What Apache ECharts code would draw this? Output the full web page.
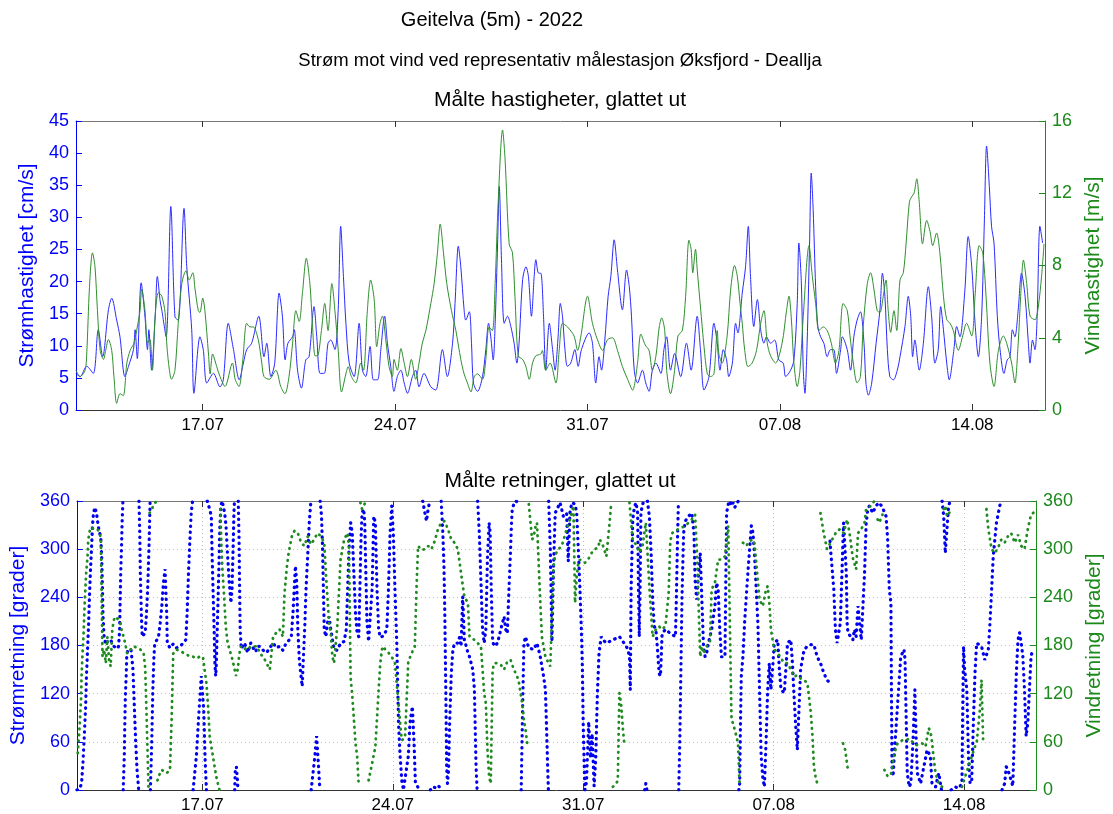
<!DOCTYPE html>
<html>
<head>
<meta charset="utf-8">
<script src="https://cdn.jsdelivr.net/npm/echarts@6/dist/echarts.min.js"></script>
<style>
  html, body { margin: 0; padding: 0; background: #fff; }
  #chart { width: 1113px; height: 814px; }
</style>
</head>
<body>
<div id="chart"></div>
<script>
// Time axis in days of July 2022 (32 = 1 August)
const dayMin = 12.39;
const dayMax = 47.645;
const tickDays = [17, 24, 31, 38, 45];
const tickLabels = ['17.07', '24.07', '31.07', '07.08', '14.08'];

// Current speed, smoothed [day, cm/s]
const currentSpeed = [
[12.39,5.7],[12.54,5.2],[12.78,6.8],[13.02,5.7],[13.20,12.5],[13.36,8.3],[13.57,15.6],[13.69,17.4],[13.87,14.0],[13.99,11.4],[14.17,5.2],[14.30,6.8],[14.48,9.4],[14.54,12.5],[14.62,8.0],[14.76,19.8],[14.90,14.5],[14.99,9.4],[15.04,12.5],[15.14,6.2],[15.27,14.5],[15.35,20.8],[15.45,17.0],[15.51,15.6],[15.67,11.4],[15.84,31.7],[15.99,14.5],[16.11,14.0],[16.32,31.4],[16.42,22.3],[16.60,12.5],[16.68,2.6],[16.90,11.4],[17.02,9.4],[17.15,4.2],[17.39,5.7],[17.63,3.6],[17.75,4.7],[17.93,13.5],[18.12,9.4],[18.33,4.7],[18.48,7.3],[18.60,9.4],[18.78,10.4],[19.04,14.6],[19.23,8.3],[19.33,10.4],[19.48,5.2],[19.62,7.3],[19.78,18.2],[19.90,14.6],[20.00,7.8],[20.10,10.4],[20.27,11.4],[20.33,12.5],[20.45,6.2],[20.59,3.4],[20.75,7.8],[20.87,8.3],[21.05,16.1],[21.15,11.4],[21.27,5.7],[21.42,5.7],[21.56,10.4],[21.66,10.9],[21.81,9.4],[21.93,15.6],[22.02,28.6],[22.12,20.8],[22.21,13.5],[22.33,7.3],[22.51,5.2],[22.69,13.5],[22.81,6.2],[22.93,5.2],[23.09,9.9],[23.21,4.7],[23.36,4.7],[23.48,9.4],[23.62,14.6],[23.72,10.4],[23.84,6.8],[23.96,2.9],[24.08,5.2],[24.21,6.2],[24.33,4.2],[24.45,2.6],[24.63,5.2],[24.75,6.2],[24.87,3.6],[25.05,5.7],[25.30,3.6],[25.48,3.1],[25.72,9.4],[25.90,5.2],[26.09,10.4],[26.18,16.6],[26.30,25.5],[26.39,22.3],[26.51,15.6],[26.57,14.0],[26.70,15.3],[26.78,10.4],[26.85,4.2],[27.00,2.9],[27.18,5.2],[27.30,9.4],[27.40,13.5],[27.48,11.4],[27.57,7.8],[27.64,13.5],[27.73,26.0],[27.79,34.8],[27.87,23.4],[27.97,13.5],[28.09,14.6],[28.21,13.0],[28.33,10.4],[28.43,7.3],[28.51,10.4],[28.64,20.3],[28.76,22.3],[28.85,20.8],[28.96,14.6],[29.06,20.8],[29.12,23.4],[29.22,21.3],[29.30,21.3],[29.40,14.6],[29.48,6.2],[29.61,13.5],[29.73,9.4],[29.82,6.2],[29.93,11.4],[30.01,16.6],[30.09,14.6],[30.18,9.4],[30.27,6.8],[30.39,7.3],[30.54,9.4],[30.66,6.8],[30.78,9.4],[31.06,12.0],[31.18,10.4],[31.30,4.2],[31.42,8.3],[31.51,6.2],[31.63,10.9],[31.75,17.7],[31.85,20.8],[31.97,26.5],[32.09,21.8],[32.27,15.6],[32.42,21.8],[32.52,19.2],[32.60,14.6],[32.70,6.2],[32.82,4.2],[33.00,6.2],[33.12,4.2],[33.24,2.9],[33.36,6.2],[33.49,7.3],[33.67,5.7],[33.78,9.4],[33.88,11.4],[34.02,6.2],[34.17,8.8],[34.39,5.2],[34.60,10.4],[34.77,6.2],[34.99,14.6],[35.11,9.4],[35.24,3.1],[35.42,5.2],[35.60,13.5],[35.72,10.4],[35.82,6.2],[35.94,9.4],[36.06,7.8],[36.14,5.2],[36.27,7.3],[36.39,13.5],[36.47,12.0],[36.63,18.2],[36.75,22.3],[36.85,28.6],[36.93,20.8],[37.05,13.0],[37.18,17.2],[37.30,12.5],[37.42,10.4],[37.51,11.4],[37.66,10.4],[37.81,10.9],[37.96,7.8],[38.12,7.3],[38.21,5.2],[38.39,6.2],[38.51,7.8],[38.63,16.6],[38.69,26.0],[38.78,19.8],[38.85,6.2],[38.91,2.6],[38.99,10.4],[39.08,26.0],[39.14,36.9],[39.21,31.2],[39.30,19.2],[39.38,13.0],[39.48,11.4],[39.60,10.4],[39.72,8.3],[39.84,9.4],[39.96,9.4],[40.06,5.7],[40.21,9.4],[40.27,11.4],[40.45,9.4],[40.57,6.2],[40.69,11.4],[40.81,14.0],[40.93,15.3],[41.06,10.4],[41.13,4.2],[41.22,2.3],[41.34,4.2],[41.50,10.4],[41.64,15.6],[41.73,21.3],[41.82,17.7],[41.91,9.4],[42.00,5.2],[42.13,4.7],[42.27,6.2],[42.37,8.3],[42.55,13.0],[42.67,17.7],[42.76,14.6],[42.83,8.3],[42.91,10.9],[43.07,6.2],[43.22,10.4],[43.40,19.2],[43.52,14.6],[43.64,7.3],[43.76,9.4],[43.85,16.1],[43.95,12.5],[44.07,7.3],[44.16,4.7],[44.33,9.4],[44.43,13.0],[44.55,11.4],[44.73,18.7],[44.85,27.0],[44.98,22.3],[45.10,13.5],[45.22,8.3],[45.34,14.6],[45.44,29.6],[45.52,41.1],[45.62,34.8],[45.70,28.6],[45.79,26.0],[45.91,14.6],[46.01,9.4],[46.15,5.7],[46.27,7.8],[46.37,8.3],[46.46,12.5],[46.55,11.4],[46.67,15.6],[46.79,21.3],[46.92,17.7],[47.04,10.4],[47.10,7.3],[47.19,10.9],[47.28,9.4],[47.36,14.6],[47.46,28.6],[47.56,26.0]
];

// Wind speed at Øksfjord - Deallja, smoothed [day, m/s]
const windSpeed = [
[12.39,2.2],[12.54,1.85],[12.72,2.2],[12.78,3.1],[12.88,6.8],[12.99,8.7],[13.08,7.95],[13.17,5.5],[13.27,3.3],[13.39,2.8],[13.47,3.3],[13.57,3.9],[13.69,3.3],[13.77,1.85],[13.87,0.37],[13.99,0.9],[14.11,0.8],[14.24,2.6],[14.36,3.3],[14.50,3.7],[14.62,4.6],[14.72,5.5],[14.78,6.7],[14.90,5.5],[14.99,3.7],[15.08,3.9],[15.17,2.2],[15.27,5.2],[15.39,6.5],[15.51,6.3],[15.63,5.4],[15.71,3.3],[15.87,1.7],[15.99,2.2],[16.11,4.8],[16.24,7.0],[16.39,7.7],[16.51,7.2],[16.64,7.6],[16.72,6.7],[16.84,5.5],[16.90,5.4],[17.00,6.2],[17.08,5.5],[17.21,3.1],[17.27,2.0],[17.36,3.1],[17.51,2.4],[17.63,1.85],[17.81,1.3],[18.08,2.6],[18.18,1.7],[18.32,1.3],[18.46,2.8],[18.60,4.8],[18.72,4.6],[18.84,4.6],[19.02,3.9],[19.15,2.6],[19.23,1.85],[19.42,1.7],[19.66,2.2],[19.84,1.3],[19.99,0.9],[20.14,1.85],[20.27,3.7],[20.39,5.5],[20.51,4.9],[20.63,6.5],[20.77,8.4],[20.90,7.0],[20.99,4.8],[21.09,3.0],[21.17,3.0],[21.32,4.4],[21.44,5.9],[21.56,4.4],[21.70,7.0],[21.81,5.5],[21.93,3.3],[22.05,1.0],[22.21,2.0],[22.29,2.4],[22.41,1.85],[22.57,1.5],[22.75,2.6],[22.85,2.2],[22.99,5.5],[23.11,7.2],[23.24,6.1],[23.33,3.5],[23.45,4.8],[23.54,5.2],[23.66,3.9],[23.78,2.4],[23.90,1.85],[23.96,2.8],[24.08,2.2],[24.21,3.4],[24.33,2.6],[24.45,1.85],[24.59,2.8],[24.75,1.7],[24.87,2.6],[24.99,3.7],[25.12,4.4],[25.30,5.9],[25.42,7.0],[25.54,8.7],[25.64,10.3],[25.76,8.7],[25.88,7.0],[26.05,5.5],[26.21,4.4],[26.39,2.8],[26.51,2.0],[26.63,1.5],[26.76,1.0],[26.88,1.85],[27.00,2.0],[27.18,1.7],[27.30,2.8],[27.42,4.6],[27.54,4.4],[27.64,7.0],[27.75,11.5],[27.91,15.5],[28.00,13.9],[28.15,9.2],[28.27,8.7],[28.36,6.3],[28.48,3.0],[28.64,2.8],[28.76,2.4],[28.88,1.7],[29.00,2.6],[29.12,3.0],[29.30,3.1],[29.36,3.3],[29.48,2.2],[29.64,2.6],[29.85,1.5],[29.97,3.3],[30.09,4.8],[30.27,4.6],[30.51,4.1],[30.64,3.3],[30.76,4.1],[31.00,6.3],[31.18,4.8],[31.36,3.9],[31.55,3.3],[31.73,3.9],[31.91,4.0],[32.09,3.3],[32.27,2.4],[32.46,1.7],[32.64,1.1],[32.82,2.6],[32.94,4.2],[33.10,3.6],[33.24,3.3],[33.36,2.2],[33.49,3.0],[33.61,4.6],[33.70,5.1],[33.81,4.4],[33.88,2.2],[34.02,0.9],[34.17,2.2],[34.29,4.1],[34.45,4.4],[34.57,6.3],[34.69,9.4],[34.77,8.9],[34.83,7.6],[34.93,8.9],[34.99,7.8],[35.11,5.7],[35.24,3.5],[35.36,2.0],[35.48,1.85],[35.60,2.0],[35.72,4.4],[35.78,3.1],[35.90,2.6],[36.08,4.1],[36.21,6.7],[36.35,8.0],[36.45,7.4],[36.55,5.9],[36.63,4.8],[36.72,3.3],[36.84,2.4],[36.99,2.6],[37.15,3.3],[37.30,4.8],[37.42,5.5],[37.54,3.7],[37.66,3.0],[37.84,2.6],[38.08,3.7],[38.24,5.5],[38.33,6.3],[38.41,5.2],[38.51,2.6],[38.63,1.3],[38.73,2.2],[38.85,5.2],[39.06,9.1],[39.18,7.4],[39.30,5.9],[39.42,4.4],[39.58,4.6],[39.72,4.4],[39.87,3.7],[40.02,2.6],[40.15,3.3],[40.30,5.9],[40.45,5.5],[40.55,4.1],[40.67,2.6],[40.81,1.5],[40.93,1.85],[41.03,4.6],[41.18,7.0],[41.30,7.6],[41.42,6.7],[41.54,5.5],[41.64,5.4],[41.76,6.3],[41.86,7.2],[41.94,5.5],[42.03,4.3],[42.15,5.5],[42.25,4.4],[42.37,7.2],[42.49,7.6],[42.59,9.2],[42.71,11.5],[42.79,11.8],[42.88,12.0],[42.98,12.8],[43.07,11.5],[43.19,9.2],[43.34,10.5],[43.46,9.9],[43.56,9.1],[43.70,9.8],[43.82,8.7],[43.95,6.3],[44.07,5.0],[44.19,4.8],[44.31,4.4],[44.49,3.3],[44.65,4.1],[44.79,4.8],[44.98,4.1],[45.10,6.3],[45.25,9.1],[45.38,8.7],[45.50,6.3],[45.64,2.6],[45.79,1.3],[45.95,3.3],[46.13,4.1],[46.25,3.7],[46.43,2.6],[46.55,1.5],[46.67,3.7],[46.76,6.3],[46.86,8.3],[46.98,7.0],[47.10,5.2],[47.28,5.0],[47.40,5.7],[47.52,7.4],[47.61,9.2]
];

// Current direction, smoothed [day, degrees]; null separates the 0/360 wraps
const currentDirection = [
[12.39,0],[12.48,1],[12.56,8],[12.61,33],[12.66,67],[12.71,104],[12.74,142],[12.78,175],[12.82,208],[12.85,241],[12.89,275],[12.93,304],[12.96,329],[13.00,345],[13.05,352],[13.11,345],[13.17,329],[13.23,320],[13.27,312],[13.30,291],[13.33,250],[13.35,216],[13.39,191],[13.45,181],[13.51,185],[13.57,187],[13.63,187],[13.69,182],[13.75,179],[13.81,177],[13.87,176],[13.92,179],[13.96,200],[13.98,237],[14.00,271],[14.03,304],[14.05,333],[14.08,360],null,
[14.09,0],[14.13,42],[14.15,83],[14.17,117],[14.20,142],[14.22,166],[14.26,175],[14.32,176],[14.38,174],[14.42,176],[14.45,150],[14.50,104],[14.55,60],[14.60,25],[14.66,0],null,
[14.67,360],[14.70,320],[14.72,270],[14.76,216],[14.79,191],[14.84,189],[14.90,196],[14.94,216],[14.99,250],[15.04,304],[15.08,360],null,
[15.09,0],[15.14,60],[15.18,125],[15.22,166],[15.25,183],[15.33,187],[15.39,191],[15.45,208],[15.51,229],[15.57,258],[15.63,275],[15.67,275],[15.69,220],[15.71,183],[15.81,177],[15.93,182],[16.05,177],[16.18,179],[16.30,183],[16.39,187],[16.44,220],[16.49,270],[16.54,310],[16.59,345],[16.64,360],null,
[16.66,0],[16.78,42],[16.88,100],[16.96,142],[17.05,100],[17.10,40],[17.15,0],null,
[17.18,360],[17.21,356],[17.27,350],[17.33,341],[17.36,291],[17.40,241],[17.44,191],[17.46,158],[17.49,142],[17.51,154],[17.53,179],[17.57,229],[17.61,279],[17.64,325],[17.68,354],[17.73,360],[17.78,358],[17.82,345],[17.87,329],[17.93,291],[17.99,258],[18.05,233],[18.09,250],[18.13,300],[18.16,345],[18.18,360],null,
[18.19,0],[18.21,25],[18.25,29],[18.29,12],[18.31,0],null,
[18.32,360],[18.35,312],[18.37,250],[18.39,200],[18.43,176],[18.48,174],[18.54,183],[18.60,179],[18.66,171],[18.72,177],[18.78,183],[18.84,181],[18.90,175],[18.96,172],[19.02,179],[19.11,179],[19.24,174],[19.36,171],[19.48,177],[19.60,183],[19.72,177],[19.84,179],[19.96,174],[20.08,183],[20.20,187],[20.27,191],[20.33,220],[20.42,279],[20.47,258],[20.51,200],[20.57,160],[20.67,129],[20.72,170],[20.77,208],[20.81,250],[20.87,291],[20.93,333],[20.99,360],null,
[21.00,0],[21.13,40],[21.20,67],[21.27,30],[21.32,0],null,
[21.33,360],[21.38,341],[21.42,300],[21.45,250],[21.48,200],[21.54,191],[21.60,208],[21.66,216],[21.72,200],[21.84,175],[21.96,174],[22.08,183],[22.21,185],[22.29,200],[22.34,250],[22.39,300],[22.45,333],[22.51,320],[22.57,270],[22.63,220],[22.69,195],[22.75,191],[22.79,250],[22.83,310],[22.87,345],[22.93,350],[22.97,333],[23.01,270],[23.05,210],[23.11,185],[23.17,187],[23.24,250],[23.30,341],[23.36,333],[23.42,250],[23.48,200],[23.54,190],[23.66,192],[23.78,200],[23.84,250],[23.90,320],[23.96,354],[24.02,320],[24.08,250],[24.13,200],[24.15,179],[24.21,83],[24.27,42],[24.33,12],[24.39,0],[24.45,0],[24.57,42],[24.63,83],[24.72,104],[24.78,60],[24.83,10],[24.93,3],[25.05,2],null,
[25.10,360],[25.18,345],[25.24,335],[25.30,350],[25.36,360],null,
[25.38,0],[25.45,4],[25.55,3],[25.66,6],[25.75,2],null,
[25.78,360],[25.84,320],[25.88,280],[25.91,225],[25.95,120],[25.98,30],[26.01,8],[26.05,25],[26.09,83],[26.15,145],[26.21,175],[26.27,183],[26.33,185],[26.39,183],[26.45,190],[26.51,179],[26.57,241],[26.63,187],[26.70,179],[26.76,171],[26.82,166],[26.88,158],[26.94,150],[27.00,125],[27.06,30],[27.10,0],null,
[27.12,360],[27.18,320],[27.24,260],[27.30,200],[27.36,183],[27.42,200],[27.48,290],[27.54,333],[27.58,320],[27.62,250],[27.67,185],[27.73,179],[27.85,183],[27.97,200],[28.09,216],[28.15,200],[28.21,195],[28.27,250],[28.33,300],[28.36,330],[28.39,350],[28.45,356],[28.51,360],[28.57,360],[28.64,358],[28.70,360],null,
[28.72,0],[28.76,80],[28.80,150],[28.82,183],[28.88,191],[28.94,183],[29.00,177],[29.06,179],[29.18,175],[29.30,183],[29.42,166],[29.54,142],[29.61,125],[29.65,80],[29.70,20],[29.72,0],null,
[29.73,360],[29.79,300],[29.85,185],[29.91,280],[29.97,345],[30.03,345],[30.15,358],[30.27,341],[30.39,345],[30.45,285],[30.51,345],[30.58,358],[30.64,360],[30.70,356],[30.76,345],[30.82,300],[30.88,250],[30.94,191],[30.97,150],[31.00,80],[31.06,0],[31.12,10],[31.20,85],[31.27,40],[31.33,70],[31.40,5],[31.46,40],[31.52,120],[31.58,170],[31.66,191],[31.73,187],[31.85,183],[31.97,185],[32.09,187],[32.21,189],[32.33,191],[32.46,185],[32.58,179],[32.64,175],[32.70,166],[32.73,125],[32.76,250],[32.82,337],[32.88,352],[32.94,358],[33.00,345],[33.03,250],[33.06,191],[33.09,250],[33.12,345],[33.18,356],[33.24,360],null,
[33.26,0],[33.30,8],[33.34,0],null,
[33.36,360],[33.43,341],[33.49,300],[33.55,241],[33.61,204],[33.67,200],[33.73,175],[33.79,145],[33.84,142],[33.90,195],[34.02,200],[34.20,195],[34.39,191],[34.43,250],[34.47,320],[34.50,360],null,
[34.51,0],[34.55,60],[34.59,150],[34.63,240],[34.69,320],[34.75,335],[34.87,341],[34.99,345],[35.07,320],[35.11,262],[35.17,237],[35.24,270],[35.30,295],[35.36,295],[35.40,200],[35.42,179],[35.48,166],[35.54,171],[35.60,183],[35.72,200],[35.84,229],[35.90,258],[35.96,250],[36.02,200],[36.08,166],[36.21,166],[36.24,260],[36.27,345],[36.33,356],[36.39,360],[36.45,354],[36.51,358],[36.57,352],[36.63,356],[36.70,360],null,
[36.72,0],[36.75,8],[36.78,83],[36.81,142],[36.87,166],[36.93,208],[37.05,270],[37.18,329],[37.24,320],[37.30,291],[37.36,250],[37.42,208],[37.48,125],[37.54,42],[37.60,15],[37.66,4],[37.72,60],[37.78,125],[37.84,158],[37.90,125],[37.96,150],[38.02,183],[38.15,187],[38.21,150],[38.27,125],[38.39,121],[38.51,183],[38.63,187],[38.69,158],[38.75,117],[38.81,80],[38.87,50],[38.93,100],[38.99,150],[39.12,175],[39.24,179],[39.36,181],[39.48,181],[39.60,166],[39.72,158],[39.84,146],[39.96,137],[40.02,135],null,
[40.07,310],[40.09,300],[40.21,250],[40.27,200],[40.33,183],[40.45,208],[40.51,271],[40.57,333],[40.63,335],[40.67,271],[40.70,208],[40.73,196],[40.79,196],[40.91,187],[40.97,200],[41.03,191],[41.10,229],[41.16,208],[41.22,187],[41.28,229],[41.34,270],[41.40,333],[41.46,350],[41.52,354],[41.64,345],[41.76,354],[41.88,358],[42.00,352],[42.13,341],[42.19,312],[42.25,250],[42.31,233],[42.33,120],[42.35,29],[42.39,17],[42.43,42],[42.55,104],[42.67,166],[42.79,175],[42.83,162],[42.85,125],[42.91,21],[42.98,4],[43.04,8],[43.12,60],[43.19,125],[43.24,60],[43.28,21],[43.40,8],[43.52,29],[43.64,50],[43.76,42],[43.82,8],[43.95,4],[44.07,21],[44.13,8],[44.17,0],null,
[44.19,360],[44.25,341],[44.31,295],[44.37,325],[44.43,354],[44.49,360],null,
[44.52,0],[44.67,4],[44.79,2],[44.92,8],[44.95,100],[44.98,179],[45.02,150],[45.10,125],[45.16,42],[45.22,8],[45.28,12],[45.34,83],[45.40,146],[45.46,183],[45.52,185],[45.64,179],[45.76,162],[45.89,175],[45.95,208],[46.07,291],[46.19,333],[46.31,354],[46.37,360],null,
[46.39,0],[46.49,8],[46.55,29],[46.61,25],[46.73,12],[46.79,5],[46.86,83],[46.92,146],[46.98,187],[47.04,196],[47.10,183],[47.16,166],[47.22,125],[47.28,67],[47.34,83],[47.40,125],[47.46,166],[47.52,175]
];

// Wind direction, smoothed [day, degrees]; null separates the 0/360 wraps
const windDirection = [
[12.42,46],[12.48,75],[12.54,112],[12.56,141],[12.59,166],[12.63,191],[12.68,237],[12.73,271],[12.78,291],[12.80,308],[12.84,320],[12.90,327],[13.02,325],[13.14,325],[13.23,320],[13.27,312],[13.33,166],[13.39,175],[13.45,158],[13.51,191],[13.57,162],[13.63,154],[13.69,200],[13.75,212],[13.81,216],[13.87,218],[13.92,212],[13.99,208],[14.05,196],[14.11,191],[14.24,170],[14.36,175],[14.48,179],[14.60,177],[14.72,175],[14.84,171],[14.90,152],[14.96,79],[15.02,4],null,
[15.06,345],[15.14,350],[15.20,354],[15.27,358],[15.33,360],null,
[15.35,12],[15.39,17],[15.45,21],[15.51,25],[15.57,25],[15.69,21],[15.81,25],[15.87,87],[15.93,170],[16.05,175],[16.18,173],[16.30,171],[16.42,169],[16.54,166],[16.66,166],[16.78,164],[16.90,166],[17.02,166],[17.15,133],[17.21,104],[17.27,67],[17.33,54],[17.39,42],[17.45,29],[17.51,17],[17.57,8],[17.63,0],null,
[17.66,350],[17.70,304],[17.73,279],[17.80,241],[17.86,204],[17.93,183],[17.99,181],[18.11,162],[18.24,142],[18.30,150],[18.36,170],[18.42,179],[18.54,175],[18.66,179],[18.78,177],[18.90,179],[19.02,179],[19.11,170],[19.24,166],[19.36,158],[19.48,150],[19.60,191],[19.72,196],[19.84,200],[19.96,191],[20.02,245],[20.11,279],[20.17,295],[20.29,316],[20.39,323],[20.51,320],[20.63,308],[20.75,304],[20.87,316],[20.99,306],[21.11,312],[21.23,320],[21.36,316],[21.48,308],[21.54,270],[21.66,208],[21.72,196],[21.78,166],[21.84,158],[21.96,204],[22.02,204],[22.08,287],[22.21,312],[22.33,320],[22.39,304],[22.45,140],[22.51,118],[22.57,116],[22.63,58],[22.69,42],[22.75,4],null,
[22.81,358],[22.87,350],[22.99,358],null,
[23.11,12],[23.24,33],[23.36,54],[23.48,125],[23.54,158],[23.60,175],[23.66,179],[23.72,175],[23.84,171],[23.96,166],[24.08,158],[24.21,108],[24.27,83],[24.33,62],[24.45,65],[24.57,160],[24.69,170],[24.81,179],[24.87,250],[24.93,304],[25.05,299],[25.18,300],[25.30,304],[25.42,300],[25.54,310],[25.66,325],[25.78,333],[25.90,335],[26.03,325],[26.15,312],[26.27,308],[26.39,300],[26.51,270],[26.63,241],[26.76,233],[26.82,191],[26.88,191],[27.00,187],[27.12,183],[27.24,179],[27.30,177],[27.36,120],[27.42,108],[27.48,50],[27.54,17],[27.60,8],[27.67,150],[27.73,158],[27.85,158],[27.97,156],[28.09,150],[28.21,160],[28.33,162],[28.45,150],[28.57,142],[28.64,133],[28.70,120],[28.76,108],[28.82,87],[28.88,75],[28.94,58],null,
[29.00,356],[29.12,312],[29.18,316],[29.24,327],[29.30,333],[29.40,250],[29.48,191],[29.61,166],[29.67,162],[29.73,158],[29.79,154],[29.91,279],[29.97,293],[30.09,300],[30.21,304],[30.39,325],[30.51,337],[30.64,354],[30.70,233],[30.76,266],[30.82,283],[30.88,287],[30.94,285],[31.06,283],[31.18,287],[31.30,295],[31.42,300],[31.55,302],[31.61,312],[31.73,304],[31.85,291],[31.97,333],[32.03,358],null,
[32.09,4],[32.21,8],[32.27,12],[32.33,121],[32.39,108],[32.46,75],[32.52,54],null,
[32.70,358],[32.82,310],[32.94,306],[33.06,296],[33.18,304],[33.30,333],[33.43,254],[33.55,191],[33.67,200],[33.78,204],[33.90,200],[34.02,204],[34.14,245],[34.20,310],[34.27,320],[34.39,323],[34.51,325],[34.63,327],[34.75,329],[34.87,333],[34.99,337],[35.11,343],[35.17,304],[35.24,230],[35.30,166],[35.36,179],[35.42,170],[35.48,175],[35.54,179],[35.60,181],[35.66,185],[35.72,250],[35.84,258],[35.96,287],[36.08,287],[36.21,291],[36.27,310],[36.33,329],[36.45,87],[36.51,83],[36.57,75],[36.63,67],[36.69,58],[36.75,4],null,
[36.87,308],[36.99,304],[37.11,310],[37.24,312],[37.30,306],[37.36,304],[37.48,237],[37.60,229],[37.72,250],[37.78,254],[37.84,233],[37.90,200],[38.02,175],[38.15,171],[38.27,164],[38.39,158],[38.51,158],[38.63,150],[38.75,141],[38.87,143],[38.99,139],[39.12,137],[39.24,133],[39.30,133],[39.36,98],[39.42,71],[39.48,29],[39.54,17],[39.60,8],null,
[39.72,345],[39.84,320],[39.96,300],[40.09,308],[40.21,316],[40.33,323],[40.45,325],[40.57,320],[40.70,337],[40.79,320],[40.85,304],[40.91,289],[40.97,287],[41.03,275],[41.10,320],[41.22,325],[41.28,329],[41.34,333],[41.40,350],[41.46,350],[41.58,354],[41.70,360],null,
[40.55,58],[40.63,50],[40.73,25],null,
[41.82,337],[41.88,333],[41.94,333],[42.00,343],null,
[42.07,25],[42.19,17],[42.31,19],[42.43,45],[42.55,58],[42.61,58],[42.73,62],[42.85,62],[42.98,64],[43.10,60],[43.22,56],[43.34,56],[43.46,58],[43.58,54],[43.70,77],[43.76,73],[43.82,60],[43.88,40],[43.95,21],[44.07,8],[44.19,4],null,
[44.25,350],[44.31,354],[44.37,341],[44.43,343],[44.49,347],null,
[44.92,4],[45.04,17],[45.16,29],[45.28,42],[45.40,54],[45.46,58],[45.58,100],[45.64,137],[45.70,60],null,
[45.82,350],[45.89,325],[46.01,300],[46.13,295],[46.25,302],[46.37,312],[46.49,308],[46.61,316],[46.73,320],[46.86,308],[46.98,318],[47.10,304],[47.22,300],[47.34,325],[47.46,343],[47.52,345],[47.61,347]
];

const FONT = '"Liberation Sans", Arial, Helvetica, sans-serif';
const BLUE = '#0000ff';
const GREEN = '#1b8a1b';

// null entries become empty points so the path breaks at each wrap
const withBreaks = pts => pts.map(p => (p ? p : ['-', '-']));
const dateLabel = v => {
  const i = tickDays.indexOf(Math.round(v));
  return i < 0 ? '' : tickLabels[i];
};

function xAxisFor(grid, position, showLabel, gridLines) {
  return {
    type: 'value', gridIndex: grid, position, min: dayMin, max: dayMax,
    axisLine: { show: true, onZero: false, lineStyle: { color: position === 'bottom' ? '#333' : '#777', width: 1 } },
    axisTick: { show: true, inside: true, length: 6, customValues: tickDays, lineStyle: { color: '#333' } },
    axisLabel: { show: showLabel, customValues: tickDays, formatter: dateLabel, color: '#000', fontSize: 17, fontFamily: FONT, margin: 7 },
    splitLine: { show: gridLines, lineStyle: { color: '#bdbdbd', type: [1, 3], width: 1 } }
  };
}

function yAxisFor(grid, position, max, interval, name, color, gap, gridLines) {
  return {
    type: 'value', gridIndex: grid, position, min: 0, max, interval,
    name, nameLocation: 'middle', nameRotate: 90, nameGap: gap,
    nameTextStyle: { color, fontSize: 21, fontFamily: FONT },
    axisLine: { show: true, onZero: false, lineStyle: { color, width: 1 } },
    axisTick: { show: true, inside: true, length: 6, lineStyle: { color } },
    axisLabel: { color, fontSize: 18, fontFamily: FONT, margin: 7 },
    splitLine: { show: gridLines, lineStyle: { color: '#bdbdbd', type: [1, 3], width: 1 } }
  };
}

const chart = echarts.init(document.getElementById('chart'), null, { renderer: 'canvas' });

chart.setOption({
  animation: false,
  backgroundColor: '#fff',
  graphic: [
    { type: 'text', x: 492, y: 20, style: { text: 'Geitelva (5m) - 2022', fill: '#000', font: '20px ' + FONT, textAlign: 'center', textVerticalAlign: 'middle' } },
    { type: 'text', x: 560, y: 61, style: { text: 'Strøm mot vind ved representativ målestasjon Øksfjord - Deallja', fill: '#000', font: '18.5px ' + FONT, textAlign: 'center', textVerticalAlign: 'middle' } },
    { type: 'text', x: 560, y: 100, style: { text: 'Målte hastigheter, glattet ut', fill: '#000', font: '21px ' + FONT, textAlign: 'center', textVerticalAlign: 'middle' } },
    { type: 'text', x: 560, y: 481, style: { text: 'Målte retninger, glattet ut', fill: '#000', font: '21px ' + FONT, textAlign: 'center', textVerticalAlign: 'middle' } }
  ],
  grid: [
    { left: 76, right: 68, top: 121, height: 289, show: false },
    { left: 76, right: 68, top: 501, height: 289, show: false }
  ],
  xAxis: [
    xAxisFor(0, 'bottom', true, false),
    xAxisFor(0, 'top', false, false),
    xAxisFor(1, 'bottom', true, true),
    xAxisFor(1, 'top', false, false)
  ],
  yAxis: [
    yAxisFor(0, 'left', 45, 5, 'Strømhastighet [cm/s]', BLUE, 35, false),
    yAxisFor(0, 'right', 16, 4, 'Vindhastighet [m/s]', GREEN, 38, false),
    yAxisFor(1, 'left', 360, 60, 'Strømretning [grader]', BLUE, 45, true),
    yAxisFor(1, 'right', 360, 60, 'Vindretning [grader]', GREEN, 40, false)
  ],
  series: [
    {
      name: 'Strømhastighet', type: 'line', xAxisIndex: 0, yAxisIndex: 0,
      data: currentSpeed, showSymbol: false, smooth: 0.3,
      lineStyle: { color: '#2a2aff', width: 1 }
    },
    {
      name: 'Vindhastighet', type: 'line', xAxisIndex: 0, yAxisIndex: 1,
      data: windSpeed, showSymbol: false, smooth: 0.3,
      lineStyle: { color: '#2f8f2f', width: 1 }
    },
    {
      name: 'Strømretning', type: 'line', xAxisIndex: 2, yAxisIndex: 2,
      data: withBreaks(currentDirection), showSymbol: false, connectNulls: false,
      lineStyle: { color: '#0000ee', width: 3.2, type: [0.5, 5.5], cap: 'round' }
    },
    {
      name: 'Vindretning', type: 'line', xAxisIndex: 2, yAxisIndex: 3,
      data: withBreaks(windDirection), showSymbol: false, connectNulls: false,
      lineStyle: { color: '#1f8a1f', width: 2.8, type: [0.5, 5.5], cap: 'round' }
    }
  ]
});
</script>
</body>
</html>
